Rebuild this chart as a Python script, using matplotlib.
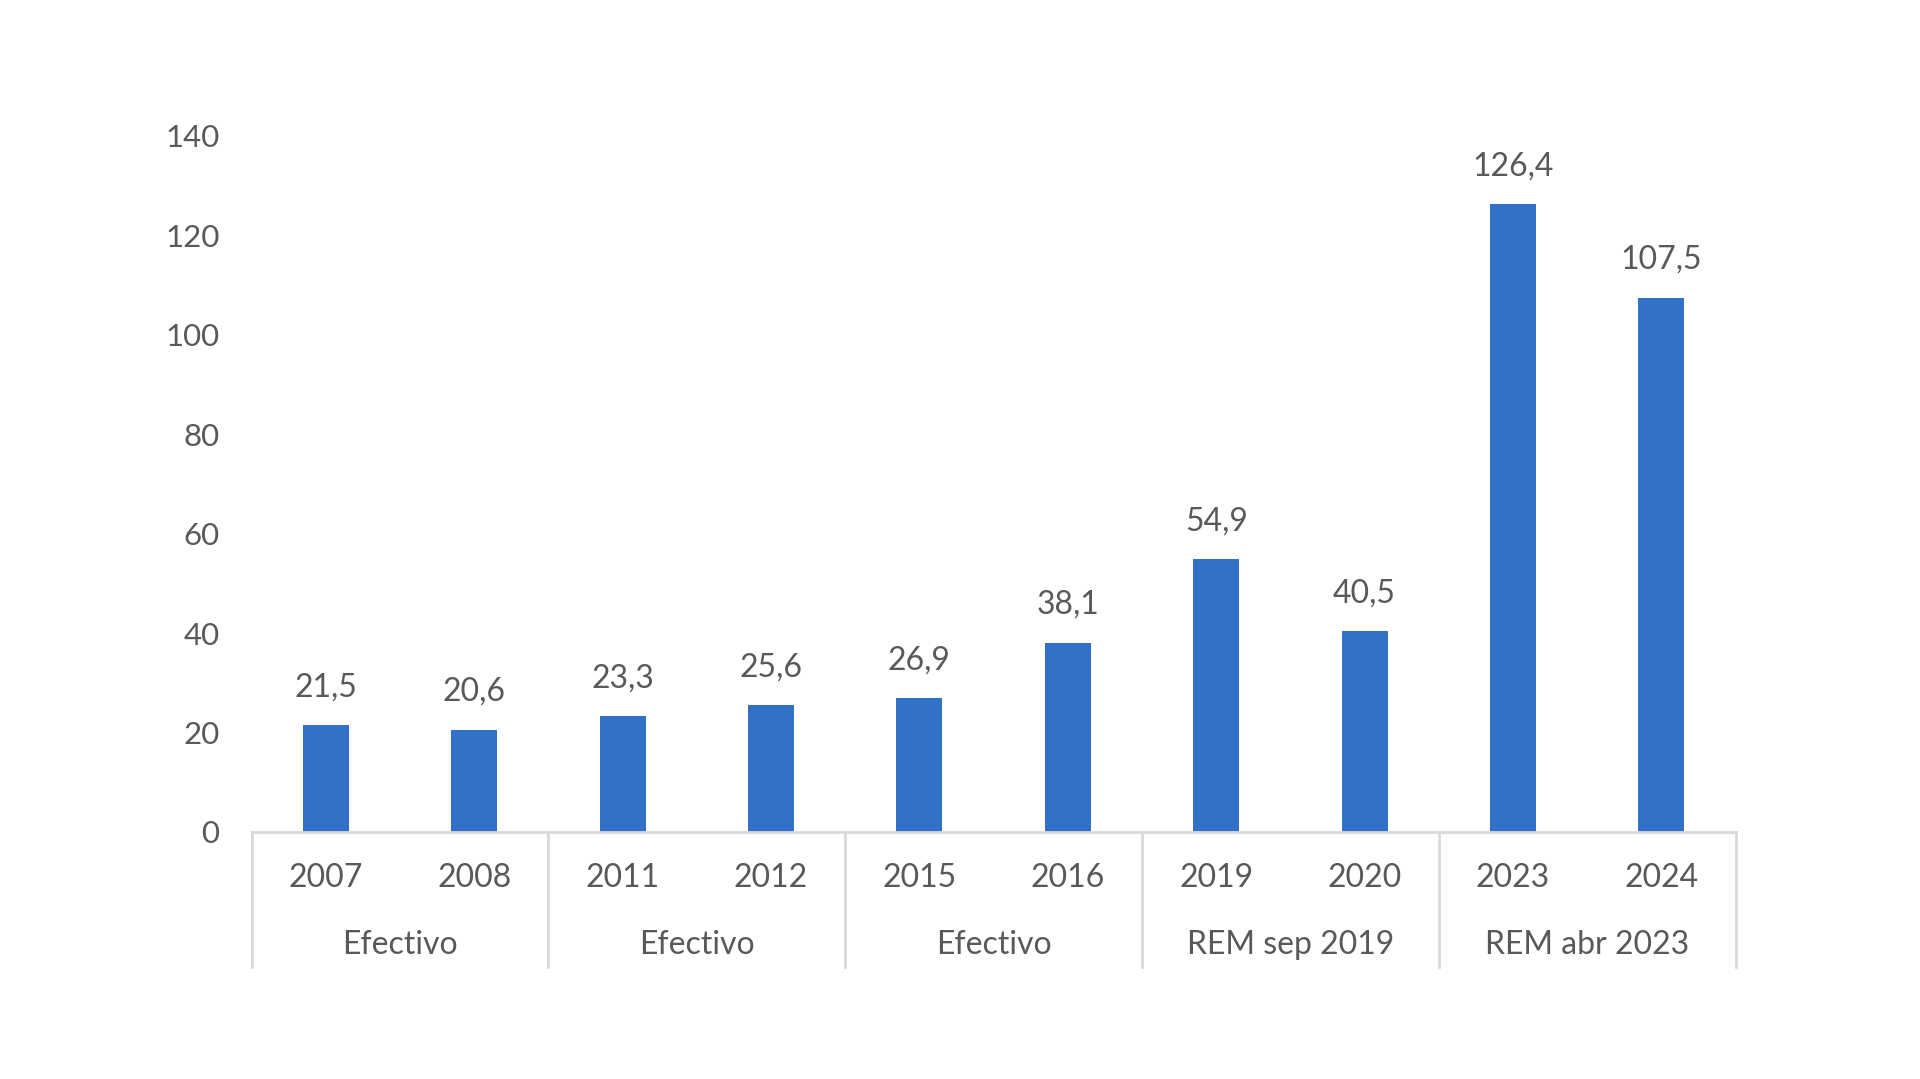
import matplotlib.pyplot as plt

years = ['2007', '2008', '2011', '2012', '2015', '2016', '2019', '2020', '2023', '2024']
values = [21.5, 20.6, 23.3, 25.6, 26.9, 38.1, 54.9, 40.5, 126.4, 107.5]
groups = ['Efectivo', 'Efectivo', 'Efectivo', 'REM sep 2019', 'REM abr 2023']
group_size = 2

plt.rcParams['font.family'] = ['Lato', 'DejaVu Sans']
text_color = '#595959'
line_color = '#D9D9D9'
bar_color = '#3172C8'

fig = plt.figure(figsize=(19.2, 10.79), dpi=100)
ax = fig.add_axes([0.131, 0.229, 0.773, 0.645])

x = list(range(len(years)))
ax.bar(x, values, width=0.31, color=bar_color)

# data labels with decimal comma
for xi, v in zip(x, values):
    ax.annotate(f'{v:.1f}'.replace('.', ','), (xi, v), xytext=(0, 27),
                textcoords='offset points', ha='center', va='center',
                fontsize=23, color=text_color)

ax.set_xlim(-0.5, len(years) - 0.5)
ax.set_ylim(0, 140)
ax.set_yticks(range(0, 141, 20))
ax.tick_params(axis='y', length=0, pad=23, labelsize=22.5, labelcolor=text_color)
ax.set_xticks([])

for side in ['left', 'right', 'top']:
    ax.spines[side].set_visible(False)
ax.spines['bottom'].set_color(line_color)
ax.spines['bottom'].set_linewidth(2)

# two-level category axis
trans = ax.get_xaxis_transform()
for xi, yr in zip(x, years):
    ax.text(xi, -0.066, yr, transform=trans, ha='center', va='center',
            fontsize=23, color=text_color)

for i, g in enumerate(groups):
    center = i * group_size + (group_size - 1) / 2
    ax.text(center, -0.162, g, transform=trans, ha='center', va='center',
            fontsize=23, color=text_color)

for i in range(len(groups) + 1):
    sep = i * group_size - 0.5
    ax.plot([sep, sep], [0, -0.194], transform=trans, color=line_color,
            linewidth=2, clip_on=False)

plt.savefig('out.png', dpi=100)
